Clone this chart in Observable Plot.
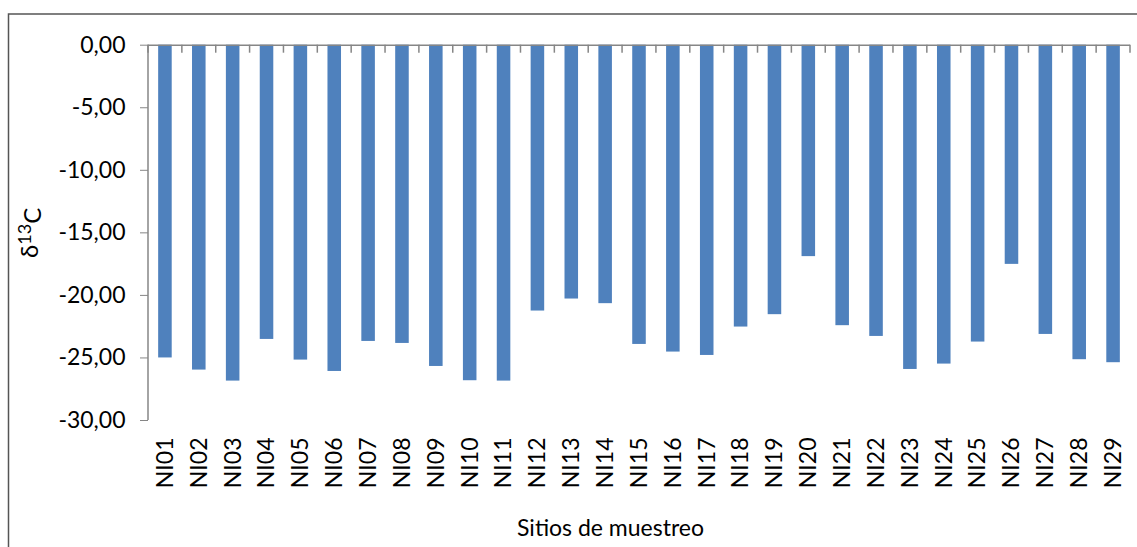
<!DOCTYPE html>
<html>
<head>
<meta charset="utf-8">
<script src="https://cdn.jsdelivr.net/npm/d3@7"></script>
<script src="https://cdn.jsdelivr.net/npm/@observablehq/plot@0.6"></script>
<style>
  html, body { margin: 0; padding: 0; background: #fff; }
  svg { display: block; }
</style>
</head>
<body>
<div id="chart"></div>
<script>
const sites = ["NI01","NI02","NI03","NI04","NI05","NI06","NI07","NI08","NI09","NI10",
  "NI11","NI12","NI13","NI14","NI15","NI16","NI17","NI18","NI19","NI20",
  "NI21","NI22","NI23","NI24","NI25","NI26","NI27","NI28","NI29"];
const delta13C = [-25.00,-25.97,-26.85,-23.52,-25.17,-26.08,-23.68,-23.84,-25.68,-26.82,
  -26.85,-21.25,-20.29,-20.66,-23.92,-24.53,-24.80,-22.53,-21.54,-16.90,
  -22.42,-23.28,-25.92,-25.49,-23.73,-17.52,-23.12,-25.14,-25.38];
const yTicks = [0, -5, -10, -15, -20, -25, -30];
const yTitle = "δ¹³C";
const xTitle = "Sitios de muestreo";

const data = sites.map((s, i) => ({site: s, value: delta13C[i]}));
const fmt = d => d.toFixed(2).replace(".", ",").replace("-0,00", "0,00");
const axisColor = "#868686";
const fs = 23;

const chart = Plot.plot({
  width: 1137,
  height: 547,
  marginLeft: 148,
  marginRight: 7,
  marginTop: 44.7,
  marginBottom: 127,
  style: {fontFamily: "Lato, 'Open Sans', sans-serif", fontSize: fs + "px", color: "#000", background: "#fff"},
  x: {domain: sites, paddingInner: 0.6, paddingOuter: 0.3, round: false, axis: null},
  y: {domain: [-30, 0], axis: null},
  marks: [
    Plot.barY(data, {x: "site", y: "value", fill: "#4F81BD"}),
    Plot.ruleY([0], {stroke: axisColor, strokeWidth: 1.5}),
    Plot.axisY({ticks: yTicks, tickSize: 8, tickPadding: 15, tickFormat: fmt, stroke: axisColor, label: null, fontSize: fs}),
    Plot.axisX({anchor: "bottom", tickSize: 0, tickPadding: 17, tickRotate: -90, label: null, fontSize: fs}),
    Plot.text([yTitle], {frameAnchor: "left", textAnchor: "middle", dx: -118, rotate: -90, fontSize: 24}),
    Plot.text([xTitle], {frameAnchor: "bottom", lineAnchor: "middle", dx: -29, dy: 108, fontSize: fs})
  ]
});

// y-title: render the superscript with tspans
d3.select(chart).selectAll("text").filter(function() { return this.textContent === yTitle; })
  .each(function() {
    const t = d3.select(this);
    t.text(null);
    t.append("tspan").text("δ");
    t.append("tspan").attr("dy", "-0.4em").attr("font-size", "75%").text("13");
    t.append("tspan").attr("dy", "0.4em").text("C");
  });

// Axis line and band-boundary ticks drawn from the library's scales
const xs = chart.scale("x");
const ys = chart.scale("y");
const g = d3.select(chart).append("g").attr("stroke", axisColor).attr("stroke-width", 1.5);
const y0 = ys.apply(0), yMin = ys.apply(-30);
const first = xs.apply(sites[0]) - (xs.step - xs.bandwidth) / 2;
g.append("line").attr("x1", first).attr("x2", first).attr("y1", y0).attr("y2", yMin);
for (let i = 0; i <= sites.length; i++) {
  const bx = first + i * xs.step;
  g.append("line").attr("x1", bx).attr("x2", bx).attr("y1", y0).attr("y2", y0 + 8);
}
// outer chart border
d3.select(chart).append("rect")
  .attr("x", 8.5).attr("y", 14).attr("width", 1140).attr("height", 545)
  .attr("fill", "none").attr("stroke", "#555").attr("stroke-width", 1.5);

document.getElementById("chart").appendChild(chart);
</script>
</body>
</html>
